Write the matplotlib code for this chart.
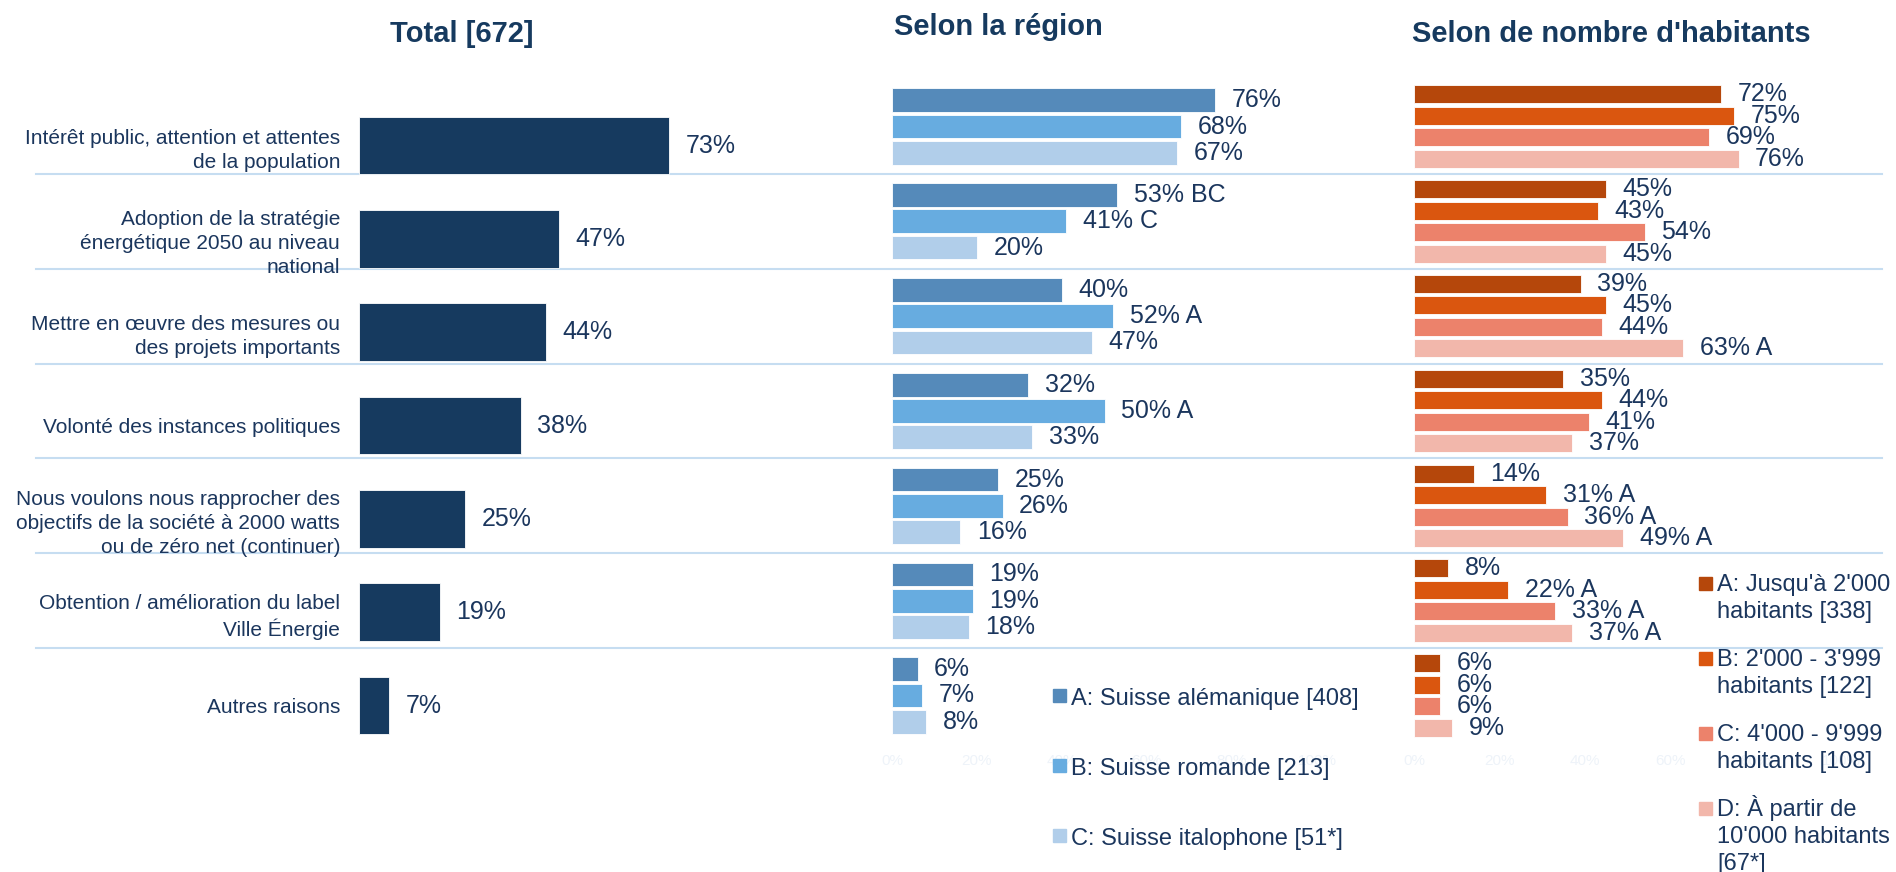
import matplotlib.pyplot as plt
import matplotlib.transforms as mtransforms
from matplotlib.lines import Line2D
from matplotlib.patches import Rectangle

plt.rcParams['font.family'] = ['Liberation Sans', 'DejaVu Sans']

# ---- data ----
categories = [
    "Intérêt public, attention et attentes\nde la population",
    "Adoption de la stratégie\nénergétique 2050 au niveau\nnational",
    "Mettre en œuvre des mesures ou\ndes projets importants",
    "Volonté des instances politiques",
    "Nous voulons nous rapprocher des\nobjectifs de la société à 2000 watts\nou de zéro net (continuer)",
    "Obtention / amélioration du label\nVille Énergie",
    "Autres raisons",
]
total = [73, 47, 44, 38, 25, 19, 7]

region_names = ["A: Suisse alémanique [408]", "B: Suisse romande [213]", "C: Suisse italophone [51*]"]
region_a = [76, 53, 40, 32, 25, 19, 6]
region_b = [68, 41, 52, 50, 26, 19, 7]
region_c = [67, 20, 47, 33, 16, 18, 8]
region_sig_a = ["", "BC", "", "", "", "", ""]
region_sig_b = ["", "C", "A", "A", "", "", ""]
region_sig_c = ["", "", "", "", "", "", ""]

hab_names = ["A: Jusqu'à 2'000\nhabitants [338]", "B: 2'000 - 3'999\nhabitants [122]",
             "C: 4'000 - 9'999\nhabitants [108]", "D: À partir de\n10'000 habitants\n[67*]"]
hab_a = [72, 45, 39, 35, 14, 8, 6]
hab_b = [75, 43, 45, 44, 31, 22, 6]
hab_c = [69, 54, 44, 41, 36, 33, 6]
hab_d = [76, 45, 63, 37, 49, 37, 9]
hab_sig_a = ["", "", "", "", "", "", ""]
hab_sig_b = ["", "", "", "", "A", "A", ""]
hab_sig_c = ["", "", "", "", "A", "A", ""]
hab_sig_d = ["", "", "A", "", "A", "A", ""]

ticks = [0, 20, 40, 60, 80, 100]

# ---- styles ----
txt = '#1B365D'
navy = '#163A5F'
region_colors = ['#558ABA', '#67ACE0', '#B1CEEA']
hab_colors = ['#B5470B', '#DA560F', '#EC826B', '#F2B7AB']
sep_color = '#C6DDF1'
faint = '#EEF3F9'

W, H = 1896, 872
fig = plt.figure(figsize=(W / 100, H / 100), dpi=100)


def fx(px):
    return px / W


def fy(py):
    return 1 - py / H


ax_t = fig.add_axes([fx(359), fy(752.2), 425 / W, 653.3 / H])
ax_r = fig.add_axes([fx(892), fy(742.9), 425 / W, 663.8 / H])
ax_h = fig.add_axes([fx(1414), fy(742.9), 427 / W, 663.8 / H])

y = list(range(len(categories)))

for ax in (ax_t, ax_r, ax_h):
    ax.set_xlim(0, 100)
    ax.set_ylim(len(categories) - 0.5, -0.5)
    for s in ax.spines.values():
        s.set_visible(False)
    ax.patch.set_visible(False)


def label_bars(ax, vals, ys, sigs):
    for v, yy, s in zip(vals, ys, sigs):
        lab = f"{v}%" + (f" {s}" if s else "")
        ax.annotate(lab, xy=(v, yy), xytext=(12, 0), textcoords='offset points',
                    ha='left', va='center', fontsize=18, color=txt)


# Total
ax_t.barh(y, total, height=0.616, color=navy, edgecolor='white', linewidth=0.6)
label_bars(ax_t, total, y, [""] * len(total))
ax_t.set_yticks(y)
ax_t.set_yticklabels(categories, fontsize=15, color=txt, linespacing=1.33)
ax_t.tick_params(axis='y', length=0, pad=13.5)
ax_t.set_xticks([])

# Region
r_step, r_h = 0.277, 0.25
for i, (vals, sigs) in enumerate(zip([region_a, region_b, region_c],
                                     [region_sig_a, region_sig_b, region_sig_c])):
    ys = [k + (i - 1) * r_step for k in y]
    ax_r.barh(ys, vals, height=r_h, color=region_colors[i], edgecolor='white', linewidth=0.6)
    label_bars(ax_r, vals, ys, sigs)

# Habitants
h_step, h_h = 0.227, 0.19
for i, (vals, sigs) in enumerate(zip([hab_a, hab_b, hab_c, hab_d],
                                     [hab_sig_a, hab_sig_b, hab_sig_c, hab_sig_d])):
    ys = [k + (i - 1.5) * h_step for k in y]
    ax_h.barh(ys, vals, height=h_h, color=hab_colors[i], edgecolor='white', linewidth=0.6)
    label_bars(ax_h, vals, ys, sigs)

for ax in (ax_r, ax_h):
    ax.set_yticks([])
    ax.set_xticks(ticks)
    ax.set_xticklabels([f"{t}%" for t in ticks], fontsize=11, color=faint)
    ax.tick_params(axis='x', length=0, pad=8)

# row separators across the whole figure
trans = mtransforms.blended_transform_factory(fig.transFigure, ax_r.transData)
for k in range(len(categories) - 1):
    fig.add_artist(Line2D([fx(36), fx(1882)], [k + 0.5, k + 0.5], transform=trans,
                          color=sep_color, lw=1.5, zorder=-1))

# titles
title_kw = dict(fontsize=21, fontweight='bold', color=navy, va='baseline')
fig.text(fx(462), fy(42), "Total [672]", ha='center', **title_kw)
fig.text(fx(894), fy(35), "Selon la région", ha='left', **title_kw)
fig.text(fx(1412), fy(42), "Selon de nombre d'habitants", ha='left', **title_kw)

# legend: region
for i, name in enumerate(region_names):
    base = 705 + 70 * i
    fig.add_artist(Rectangle((fx(1053), fy(base - 3)), 13 / W, 13 / H,
                             transform=fig.transFigure, color=region_colors[i]))
    fig.text(fx(1071), fy(base), name, fontsize=17, color=txt, va='baseline')

# legend: habitants
for i, name in enumerate(hab_names):
    base = 591 + 75 * i
    fig.add_artist(Rectangle((fx(1699), fy(base - 1)), 13 / W, 13 / H,
                             transform=fig.transFigure, color=hab_colors[i]))
    for j, line in enumerate(name.split('\n')):
        fig.text(fx(1717), fy(base + 27 * j), line, fontsize=17, color=txt, va='baseline')

fig.savefig('out.png', dpi=100)
